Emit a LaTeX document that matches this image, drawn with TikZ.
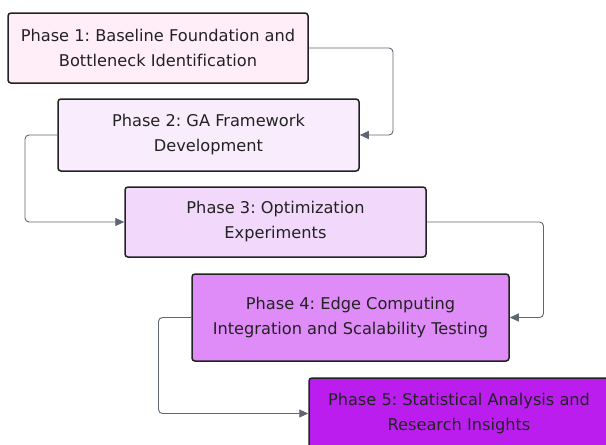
\documentclass[tikz,border=0pt]{standalone}
\usepackage{fontspec}
\setmainfont[Ligatures=CommonOff]{DejaVu Sans}
\usetikzlibrary{arrows.meta}
\frenchspacing
\definecolor{pA}{HTML}{FFEEF8}
\definecolor{pB}{HTML}{F9EDFD}
\definecolor{pC}{HTML}{F2D9FC}
\definecolor{pD}{HTML}{DF8BF8}
\definecolor{pE}{HTML}{BB1DEE}
\definecolor{edge}{HTML}{5F6670}
\definecolor{frame}{HTML}{222222}
\definecolor{ink}{HTML}{222222}
\begin{document}
\begin{tikzpicture}[x=1pt,y=-1pt,
  phase/.style={draw=frame,line width=1.5pt,rounded corners=3pt,align=center,
    font=\fontsize{16.2}{25}\selectfont,text=ink,inner sep=0pt},
  flow/.style={draw=edge,line width=0.9pt,rounded corners=4pt,
    -{Triangle[length=9pt,width=8pt]}}]
\useasboundingbox (0,0) rectangle (606,445);
\begin{scope}
\clip (0,0) rectangle (606,445);
\node[phase,fill=pA,minimum width=300pt,minimum height=70pt] (p1) at (158,48)
  {Phase 1: Baseline Foundation and\\Bottleneck Identification};
\node[phase,fill=pB,minimum width=301pt,minimum height=72pt] (p2) at (208.5,135)
  {Phase 2: GA Framework\\Development};
\node[phase,fill=pC,minimum width=301pt,minimum height=70pt] (p3) at (275.5,222)
  {Phase 3: Optimization\\Experiments};
\node[phase,fill=pD,minimum width=317pt,minimum height=87pt] (p4) at (350.5,317.5)
  {Phase 4: Edge Computing\\Integration and Scalability Testing};
\node[phase,fill=pE,minimum width=300pt,minimum height=71pt] (p5) at (459,413.5)
  {Phase 5: Statistical Analysis and\\Research Insights};
\end{scope}
\coordinate (k1) at (393,0);
\coordinate (k2) at (25,0);
\coordinate (k3) at (543.5,0);
\coordinate (k4) at (158.5,0);
\draw[flow] (p1.east) -- (p1.east -| k1) -- (p2.east -| k1) -- (p2.east);
\draw[flow] (p2.west) -- (p2.west -| k2) -- (p3.west -| k2) -- (p3.west);
\draw[flow] (p3.east) -- (p3.east -| k3) -- (p4.east -| k3) -- (p4.east);
\draw[flow] (p4.west) -- (p4.west -| k4) -- (p5.west -| k4) -- (p5.west);
\end{tikzpicture}
\end{document}
